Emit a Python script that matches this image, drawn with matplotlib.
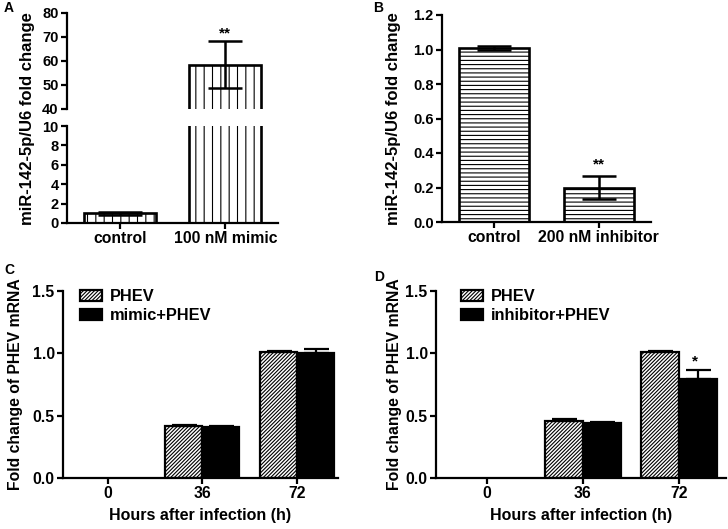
import matplotlib.pyplot as plt
import numpy as np

plt.rcParams['font.family'] = ['Liberation Sans', 'DejaVu Sans']
plt.rcParams['font.weight'] = 'bold'
plt.rcParams['axes.labelweight'] = 'bold'
plt.rcParams['hatch.linewidth'] = 0.8
plt.rcParams['axes.linewidth'] = 1.6
plt.rcParams['font.size'] = 10

# panel A: mimic
a_groups = ['control', '100 nM mimic']
a_mean = [1.0, 58.5]
a_err = [0.15, 9.7]

# panel B: inhibitor
b_groups = ['control', '200 nM inhibitor']
b_mean = [1.01, 0.20]
b_err = [0.01, 0.067]

# panels C / D: PHEV mRNA (no bars at 0 h)
hours = ['0', '36', '72']
c_phev = [0, 0.42, 1.01]
c_phev_err = [0, 0.005, 0.01]
c_mimic = [0, 0.41, 1.005]
c_mimic_err = [0, 0.01, 0.03]
d_phev = [0, 0.455, 1.01]
d_phev_err = [0, 0.02, 0.01]
d_inhib = [0, 0.445, 0.795]
d_inhib_err = [0, 0.005, 0.07]


def style(ax, bottom=True, size=10.5):
    ax.spines['top'].set_visible(False)
    ax.spines['right'].set_visible(False)
    if not bottom:
        ax.spines['bottom'].set_visible(False)
        ax.set_xticks([])
    ax.tick_params(direction='out', length=4, width=1.6, labelsize=size, pad=2)
    for lab in ax.get_yticklabels() + ax.get_xticklabels():
        lab.set_fontweight('bold')


fig = plt.figure(figsize=(7.28, 5.29), dpi=100)

# ---- A (broken y axis)
ax_top = fig.add_axes([67/728, 1-109/529, 211/728, 96/529])
ax_bot = fig.add_axes([67/728, 1-223/529, 211/728, 97/529])
xa = np.arange(len(a_groups))
for ax in (ax_top, ax_bot):
    ax.bar(xa, a_mean, width=0.68, color='white', edgecolor='black',
           linewidth=1.9, hatch='||')
    ax.set_xlim(-0.5, 1.5)
ax_top.errorbar(xa[1], a_mean[1], yerr=a_err[1], color='black', capsize=12,
                elinewidth=1.8, capthick=1.8, fmt='none')
ax_bot.errorbar(xa[0], a_mean[0], yerr=a_err[0], color='black', capsize=16,
                elinewidth=1.8, capthick=1.8, fmt='none')
ax_top.set_ylim(40, 80)
ax_top.set_yticks([40, 50, 60, 70, 80])
ax_bot.set_ylim(0, 10)
ax_bot.set_yticks([0, 2, 4, 6, 8, 10])
ax_bot.set_xticks(xa)
ax_bot.set_xticklabels(a_groups)
style(ax_top, bottom=False)
style(ax_bot)
ax_bot.tick_params(axis='x', labelsize=11.3)
ax_top.text(xa[1], a_mean[1] + a_err[1] + 0.5, '**', ha='center', va='bottom',
            fontsize=11, fontweight='bold')
fig.text(28/728, 1-119/529, 'miR-142-5p/U6 fold change', rotation=90,
         ha='center', va='center', fontsize=12, fontweight='bold')
fig.text(4/728, 1-8/529, 'A', ha='left', va='center', fontsize=10, fontweight='bold')

# ---- B
axb = fig.add_axes([442/728, 1-222/529, 209/728, 207/529])
xb = np.arange(len(b_groups))
axb.bar(xb, b_mean, width=0.67, color='white', edgecolor='black',
        linewidth=1.9, hatch='----')
axb.errorbar(xb, b_mean, yerr=b_err, color='black', capsize=12,
             elinewidth=1.8, capthick=1.8, fmt='none')
axb.set_xlim(-0.5, 1.5)
axb.set_ylim(0, 1.2)
axb.set_yticks([0, 0.2, 0.4, 0.6, 0.8, 1.0, 1.2])
axb.set_yticklabels(['0.0', '0.2', '0.4', '0.6', '0.8', '1.0', '1.2'])
axb.set_xticks(xb)
axb.set_xticklabels(b_groups)
style(axb)
axb.tick_params(axis='x', labelsize=11.3)
axb.text(xb[1], b_mean[1] + b_err[1] + 0.025, '**', ha='center', va='bottom',
         fontsize=11, fontweight='bold')
axb.set_ylabel('miR-142-5p/U6 fold change', fontsize=12)
axb.yaxis.set_label_coords(-41/209, 0.5)
fig.text(373/728, 1-8/529, 'B', ha='left', va='center', fontsize=10, fontweight='bold')


def grouped(ax, first, first_err, second, second_err, second_label, w, xlim):
    x = np.arange(len(hours))
    m = np.array(first) > 0
    first = np.array(first)
    second = np.array(second)
    ax.bar(x[m] - w/2, first[m], width=w, color='white', edgecolor='black',
           linewidth=1.6, hatch='/' * 9, label='PHEV')
    ax.bar(x[m] + w/2, second[m], width=w, color='black', edgecolor='black',
           linewidth=1.6, label=second_label)
    e1 = np.array(first_err)[m]
    e2 = np.array(second_err)[m]
    ax.errorbar(x[m] - w/2, first[m], yerr=[np.zeros_like(e1), e1], color='black',
                capsize=9, elinewidth=1.6, capthick=1.6, fmt='none')
    ax.errorbar(x[m] + w/2, second[m], yerr=[np.zeros_like(e2), e2], color='black',
                capsize=9, elinewidth=1.6, capthick=1.6, fmt='none')
    ax.set_xlim(*xlim)
    ax.set_ylim(0, 1.5)
    ax.set_yticks([0, 0.5, 1.0, 1.5])
    ax.set_yticklabels(['0.0', '0.5', '1.0', '1.5'])
    ax.set_xticks(x)
    ax.set_xticklabels(hours)
    style(ax, size=11.3)
    ax.set_xlabel('Hours after infection (h)', fontsize=11.5, labelpad=5)
    ax.set_ylabel('Fold change of PHEV mRNA', fontsize=11.3)
    ax.legend(loc='upper left', frameon=False, fontsize=11.8,
              handlelength=1.35, handleheight=0.6, labelspacing=0.25,
              handletextpad=0.45, borderpad=0, borderaxespad=0)
    return x


# ---- C
axc = fig.add_axes([63/728, 1-478/529, 275/728, 187/529])
grouped(axc, c_phev, c_phev_err, c_mimic, c_mimic_err, 'mimic+PHEV', 0.39, (-0.47, 2.43))
axc.get_legend().set_bbox_to_anchor((0.062, 1.01), transform=axc.transAxes)
axc.yaxis.set_label_coords(-40/275, 0.5)
fig.text(4/728, 1-270/529, 'C', ha='left', va='center', fontsize=10, fontweight='bold')

# ---- D
axd = fig.add_axes([436/728, 1-478/529, 290/728, 187/529])
xd = grouped(axd, d_phev, d_phev_err, d_inhib, d_inhib_err, 'inhibitor+PHEV', 0.40, (-0.53, 2.49))
axd.get_legend().set_bbox_to_anchor((0.086, 1.01), transform=axd.transAxes)
axd.yaxis.set_label_coords(-34/290, 0.5)
axd.text(xd[2] + 0.17, d_inhib[2] + d_inhib_err[2] + 0.01, '*', ha='center',
         va='bottom', fontsize=11, fontweight='bold')
fig.text(374/728, 1-277/529, 'D', ha='left', va='center', fontsize=10, fontweight='bold')

fig.savefig('out.png', dpi=100)
